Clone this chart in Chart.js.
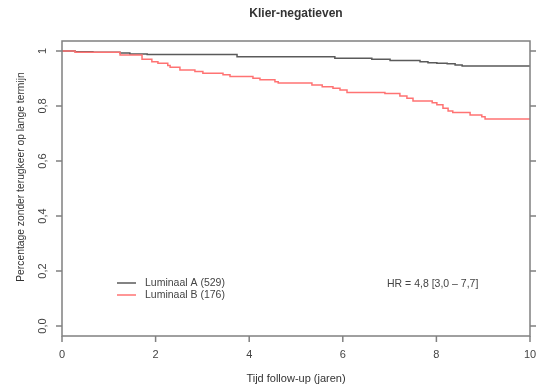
<!DOCTYPE html>
<html>
<head>
<meta charset="utf-8">
<script src="https://cdn.jsdelivr.net/npm/chart.js@4"></script>
<style>
  body { margin: 0; background: #fff; }
  #km { display: block; }
</style>
</head>
<body>
<canvas id="km" width="539" height="385"></canvas>
<script>
// Kaplan-Meier curves
const timesA = [0, 0.28, 0.66, 1.24, 1.45, 1.82, 3.74, 5.83, 6.62, 7.01, 7.65, 7.82, 8.01, 8.23, 8.40, 8.55, 10];
const survA  = [1, 0.997, 0.995, 0.992, 0.989, 0.987, 0.979, 0.973, 0.970, 0.965, 0.961, 0.957, 0.955, 0.953, 0.949, 0.945, 0.945];

const timesB = [0, 0.28, 1.24, 1.71, 1.92, 2.05, 2.26, 2.31, 2.52, 2.84, 3.01, 3.44, 3.59, 4.08, 4.23, 4.55, 4.62, 5.34, 5.56, 5.79, 5.94, 6.09, 6.90, 7.22, 7.37, 7.50, 7.91, 8.01, 8.14, 8.25, 8.35, 8.72, 8.97, 9.04, 10];
const survB  = [1, 0.995, 0.985, 0.970, 0.961, 0.955, 0.947, 0.941, 0.931, 0.925, 0.919, 0.913, 0.907, 0.901, 0.895, 0.888, 0.883, 0.876, 0.870, 0.864, 0.858, 0.849, 0.845, 0.836, 0.828, 0.818, 0.812, 0.804, 0.792, 0.782, 0.776, 0.767, 0.761, 0.753, 0.753];

const seriesNames = ['Luminaal A (529)', 'Luminaal B (176)'];
const xTicks = [0, 2, 4, 6, 8, 10];
const yTicks = [0, 0.2, 0.4, 0.6, 0.8, 1];
const yLabels = ['0,0', '0,2', '0,4', '0,6', '0,8', '1'];
const hrText = 'HR = 4,8 [3,0 \u2013 7,7]';

const colA = '#5a5a5a';
const colB = '#ff7373';
const axisCol = '#808080';
const FONT = '"Liberation Sans", Arial, sans-serif';

function toPoints(xs, ys) {
    return xs.map((x, i) => ({ x: x, y: ys[i] }));
}

// axes, box, labels and legend drawn in R base-graphics style
const rStyle = {
    id: 'rStyle',
    afterDraw(chart) {
        const ctx = chart.ctx;
        const a = chart.chartArea;
        const xs = chart.scales.x, ys = chart.scales.y;
        ctx.save();

        ctx.strokeStyle = axisCol;
        ctx.lineWidth = 1.5;
        ctx.strokeRect(a.left, a.top, a.right - a.left, a.bottom - a.top);

        ctx.fillStyle = '#444';
        ctx.font = '11px ' + FONT;

        // x axis
        ctx.textAlign = 'center';
        ctx.textBaseline = 'middle';
        xTicks.forEach(v => {
            const px = xs.getPixelForValue(v);
            ctx.beginPath();
            ctx.moveTo(px, a.bottom);
            ctx.lineTo(px, a.bottom + 6);
            ctx.stroke();
            ctx.fillText(String(v), px, a.bottom + 19);
        });

        // y axis left + right
        yTicks.forEach((v, i) => {
            const py = ys.getPixelForValue(v);
            ctx.beginPath();
            ctx.moveTo(a.left - 6, py);
            ctx.lineTo(a.left, py);
            ctx.moveTo(a.right, py);
            ctx.lineTo(a.right + 6, py);
            ctx.stroke();
            ctx.save();
            ctx.translate(a.left - 19, py);
            ctx.rotate(-Math.PI / 2);
            ctx.fillText(yLabels[i], 0, 0);
            ctx.restore();
        });

        // titles
        ctx.fillStyle = '#333';
        ctx.font = 'bold 12px ' + FONT;
        ctx.fillText('Klier-negatieven', (a.left + a.right) / 2, 14);
        ctx.font = '11px ' + FONT;
        ctx.fillText('Tijd follow-up (jaren)', (a.left + a.right) / 2, 379);
        ctx.font = '10.3px ' + FONT;
        ctx.save();
        ctx.translate(21, 177);
        ctx.rotate(-Math.PI / 2);
        ctx.fillText('Percentage zonder terugkeer op lange termijn', 0, 0);
        ctx.restore();

        // legend
        ctx.textAlign = 'left';
        ctx.font = '10.5px ' + FONT;
        [colA, colB].forEach((c, i) => {
            const ly = 283 + i * 12;
            ctx.strokeStyle = c;
            ctx.lineWidth = 1.5;
            ctx.beginPath();
            ctx.moveTo(117, ly);
            ctx.lineTo(136, ly);
            ctx.stroke();
            ctx.fillStyle = '#444';
            ctx.fillText(seriesNames[i], 145, ly);
        });
        ctx.fillText(hrText, 387, 284);

        ctx.restore();
    }
};

new Chart(document.getElementById('km'), {
    type: 'line',
    data: {
        datasets: [{
            label: seriesNames[1],
            data: toPoints(timesB, survB),
            borderColor: colB,
            borderWidth: 1.5,
            stepped: true,
            pointRadius: 0,
            fill: false
        }, {
            label: seriesNames[0],
            data: toPoints(timesA, survA),
            borderColor: colA,
            borderWidth: 1.5,
            stepped: true,
            pointRadius: 0,
            fill: false
        }]
    },
    options: {
        responsive: false,
        animation: false,
        layout: { padding: { left: 62, right: 9, top: 41, bottom: 49 } },
        plugins: {
            legend: { display: false },
            tooltip: { enabled: false }
        },
        scales: {
            x: { type: 'linear', min: 0, max: 10, display: false },
            y: { type: 'linear', min: -0.036, max: 1.036, display: false }
        }
    },
    plugins: [rStyle]
});
</script>
</body>
</html>
